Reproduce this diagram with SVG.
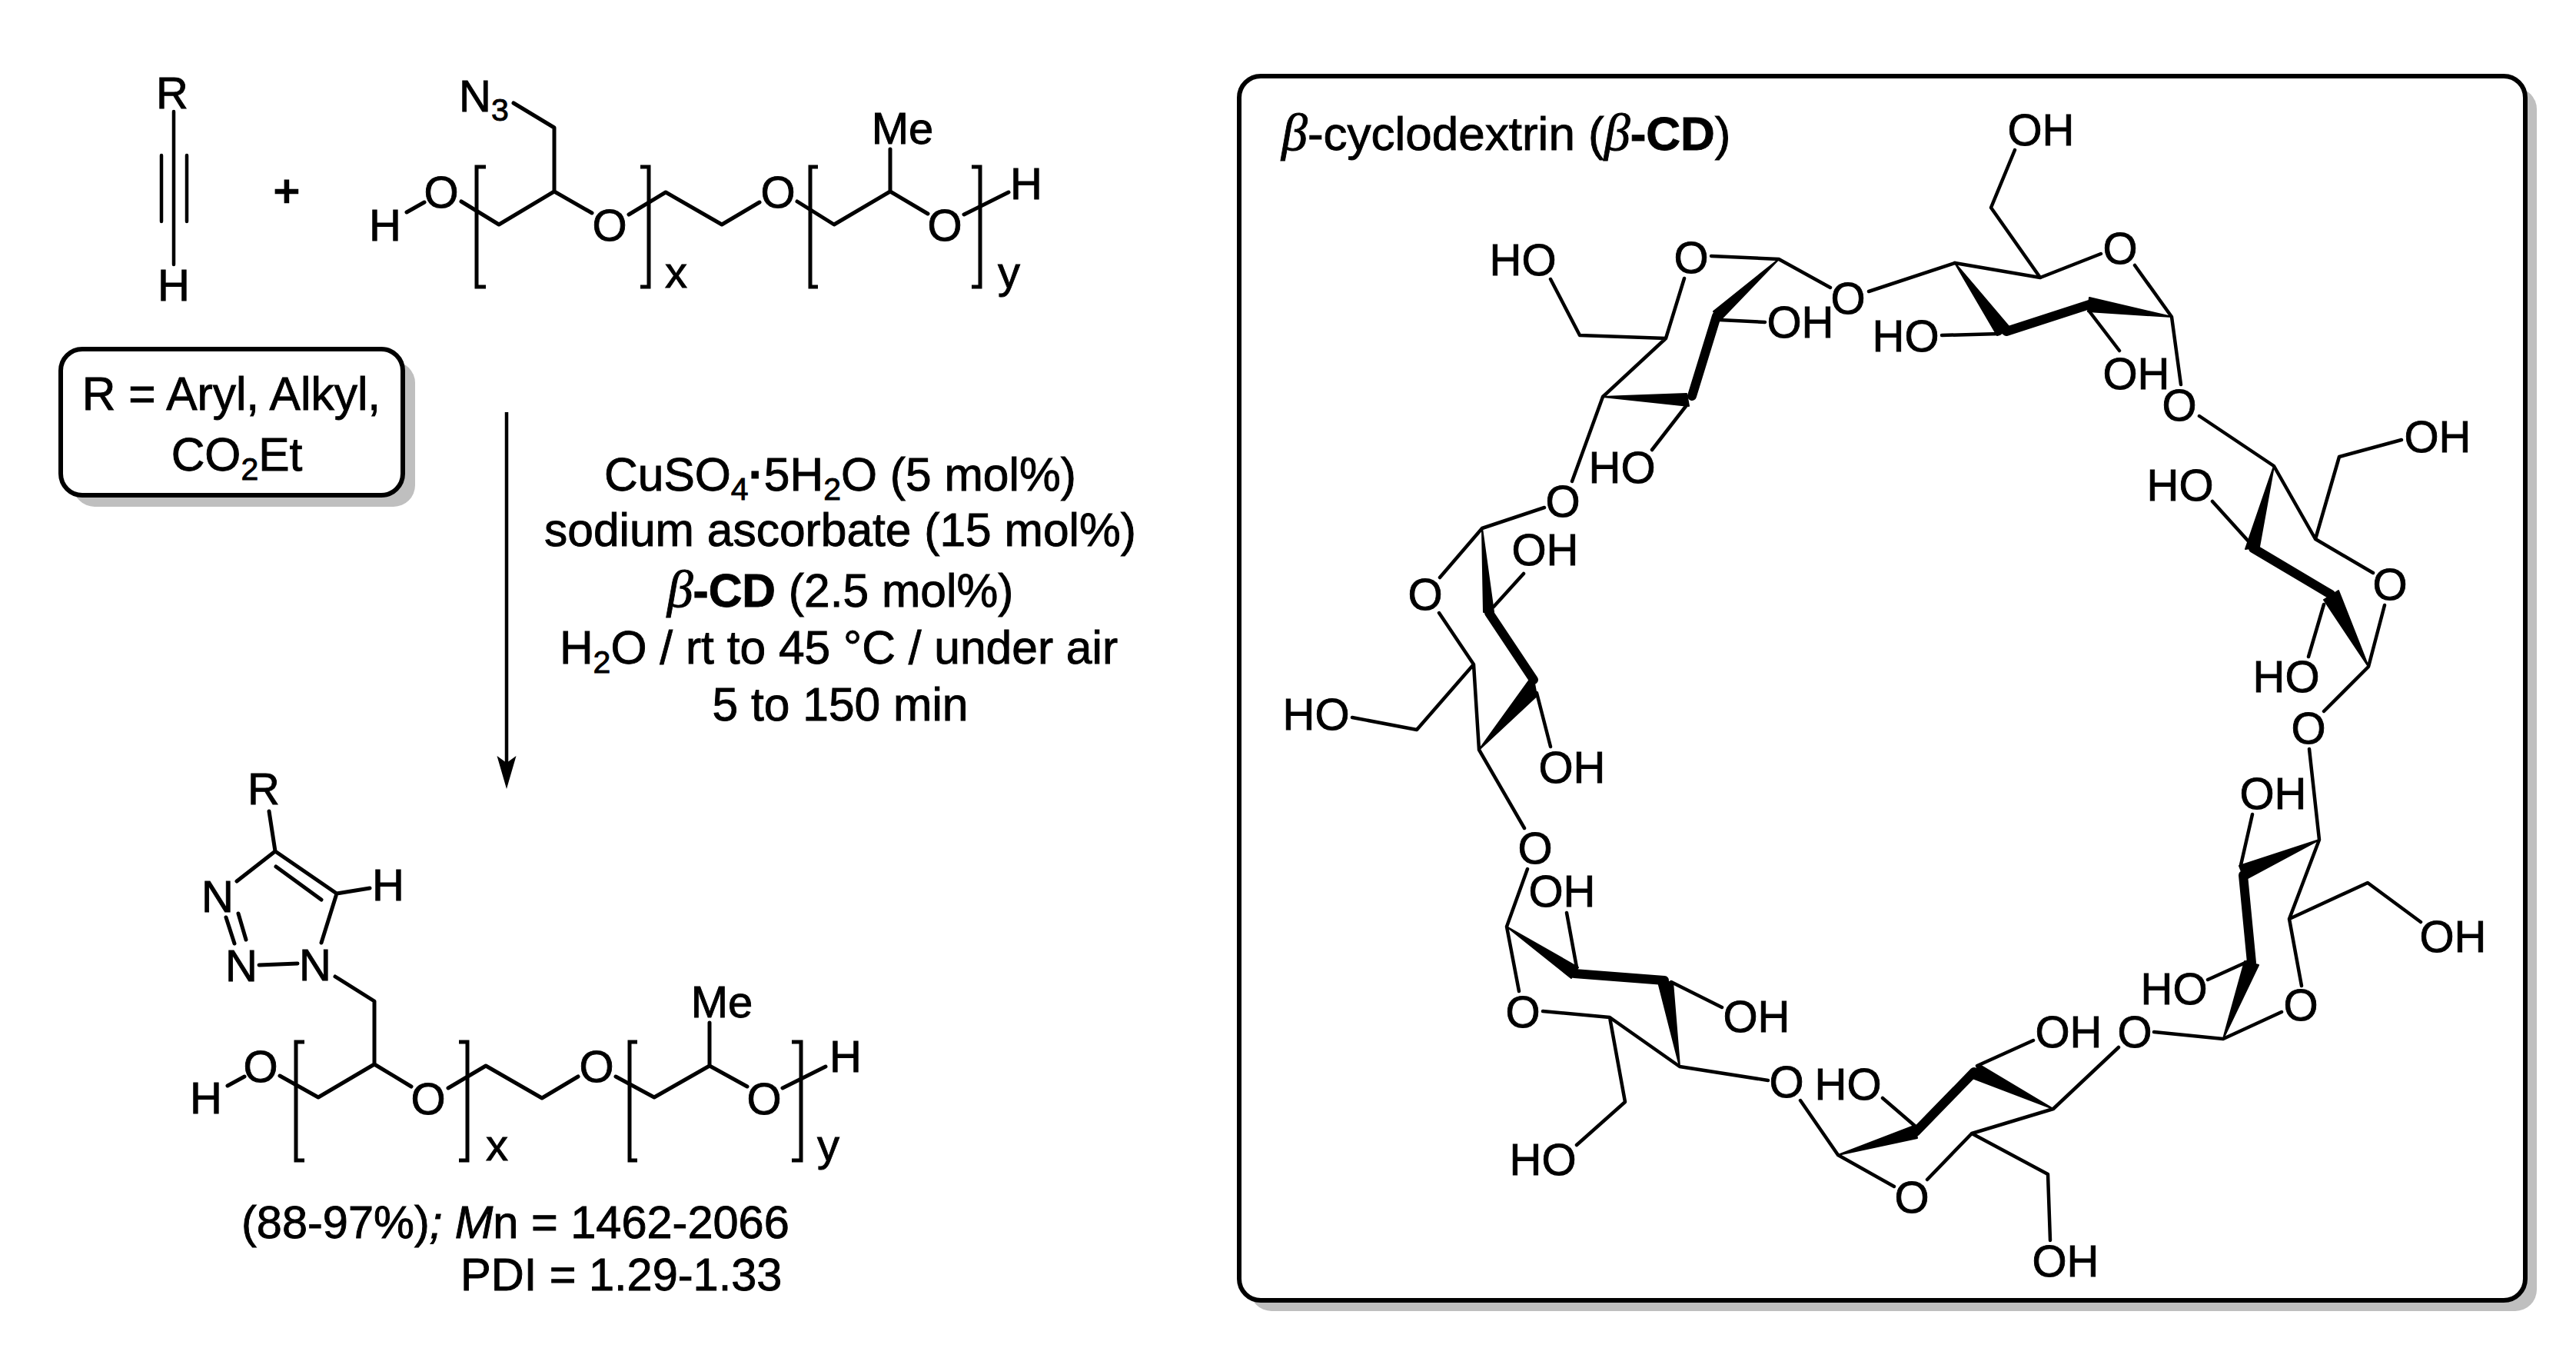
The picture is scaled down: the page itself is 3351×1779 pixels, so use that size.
<svg xmlns="http://www.w3.org/2000/svg" width="3351" height="1779" viewBox="0 0 3351 1779">
<defs>
<style>
text{font-family:"Liberation Sans",Arial,sans-serif;font-size:58px;fill:#000;stroke:#000;stroke-width:.9}
.c{text-anchor:middle}
.p{font-size:60.5px}
.q{font-size:59.5px}
.h{font-size:62px}
.l{font-size:58px;text-anchor:middle}
.s{font-size:41px}
.i{font-style:italic}
.g{font-family:"Liberation Serif",serif;font-style:italic;font-size:68px}
.bd{font-weight:bold}
.b{fill:none;stroke:#000;stroke-width:5;stroke-linecap:round;stroke-linejoin:round}
.t{fill:none;stroke:#000;stroke-width:4.5;stroke-linecap:round;stroke-linejoin:round}
.k{fill:none;stroke:#000;stroke-width:12;stroke-linecap:round;stroke-linejoin:round}
.w{fill:#000;stroke:#000;stroke-width:2;stroke-linejoin:round}
.br{fill:none;stroke:#000;stroke-width:5}
.sh{fill:#bfbfbf}
.bx{fill:#fff;stroke:#000;stroke-width:6}
</style>
</defs>
<rect width="3351" height="1779" fill="#fff"/>

<g id="alkyne">
<text class="c" x="224" y="141">R</text>
<text class="c" x="226" y="391">H</text>
<path class="t" d="M226 145V344M210 202V288M243 202V288"/>
</g>
<g id="plus"><text class="c" x="373" y="268" style="stroke-width:2.4">+</text></g>

<g id="azide-polymer">
<text x="597" y="145">N<tspan class="s" dy="12">3</tspan></text>
<text class="c" x="1174" y="187">Me</text>
<text class="c" x="574" y="270">O</text>
<text class="c" x="501" y="313">H</text>
<text class="c" x="793" y="313">O</text>
<text class="c" x="1012" y="270">O</text>
<text class="c" x="1229" y="313">O</text>
<text class="c" x="1335" y="259">H</text>
<text x="865" y="374">x</text>
<text x="1298" y="374">y</text>
<path class="b" d="M668 134L721 166V249L649 292L600 262M721 249L770 277M818 279L866 250L939 292L988 263M1037 262L1085 292L1158 249V194M1158 249L1207 278M1254 279L1312 250M529 276L552 263"/>
<path class="br" d="M632 217H620V373H632M833 217H844V373H833M1064 217H1054V373H1064M1264 217H1275V373H1264"/>
</g>

<g id="r-box">
<rect class="sh" x="95" y="470" width="445" height="189" rx="28"/>
<rect class="bx" x="79" y="454" width="445" height="190" rx="28"/>
<text class="c p" x="301" y="533">R = Aryl, Alkyl,</text>
<text class="c p" x="308" y="612">CO<tspan class="s" dy="12">2</tspan><tspan dy="-12">Et</tspan></text>
</g>

<g id="connectors">
<line x1="659" y1="536" x2="659" y2="992" stroke="#000" stroke-width="4.5"/>
<polygon points="646.5,983 659,992 671.5,983 659,1026" fill="#000"/>
</g>

<g id="conditions">
<text class="c p" x="1093" y="638">CuSO<tspan class="s" dy="12">4</tspan><tspan dy="-12" class="bd">·</tspan>5H<tspan class="s" dy="12">2</tspan><tspan dy="-12">O (5 mol%)</tspan></text>
<text class="c p" x="1093" y="710">sodium ascorbate (15 mol%)</text>
<text class="c p" x="1093" y="789"><tspan class="g">β</tspan><tspan class="bd">-CD</tspan> (2.5 mol%)</text>
<text class="c p" x="1091" y="863">H<tspan class="s" dy="12">2</tspan><tspan dy="-12">O / rt to 45 °C / under air</tspan></text>
<text class="c p" x="1093" y="937">5 to 150 min</text>
</g>

<g id="triazole-polymer">
<text class="c" x="343" y="1046">R</text>
<text class="c" x="283" y="1186">N</text>
<text class="c" x="314" y="1276">N</text>
<text class="c" x="410" y="1275">N</text>
<text class="c" x="505" y="1171">H</text>
<text class="c" x="939" y="1323">Me</text>
<text class="c" x="339" y="1407">O</text>
<text class="c" x="268" y="1448">H</text>
<text class="c" x="557" y="1449">O</text>
<text class="c" x="776" y="1407">O</text>
<text class="c" x="994" y="1449">O</text>
<text class="c" x="1100" y="1394">H</text>
<text x="632" y="1509">x</text>
<text x="1063" y="1509">y</text>
<path class="b" d="M350 1055L358 1107L308 1146M294 1193L305 1227M310 1188L320 1222M337 1255L387 1253M418 1226L438 1162L358 1107M359 1127L418 1170M438 1162L481 1155M436 1270L487 1302V1384L535 1413M487 1384L414 1427L364 1399M296 1412L318 1400M583 1415L632 1386L705 1428L752 1400M801 1400L851 1427L923 1386V1330M923 1386L972 1413M1018 1415L1074 1387"/>
<path class="br" d="M396 1355H385V1509H396M597 1355H608V1509H597M829 1355H819V1509H829M1030 1355H1042V1509H1030"/>
<text class="q" x="314" y="1610">(88-97%)<tspan class="i">; M</tspan>n = 1462-2066</text>
<text class="q" x="599" y="1678">PDI = 1.29-1.33</text>
</g>

<g id="beta-cd-box">
<rect class="sh" x="1626" y="114" width="1674" height="1591" rx="28"/>
<rect class="bx" x="1612" y="99" width="1673" height="1592" rx="28"/>
<text class="h" x="1667" y="195"><tspan class="g">β</tspan>-cyclodextrin (<tspan class="g">β</tspan><tspan class="bd">-CD</tspan>)</text>
</g>

<g id="beta-cd">
<g id="unit-a">
<text class="l" x="1981" y="358">HO</text>
<text class="l" x="2200" y="355">O</text>
<text class="l" x="2404" y="408">O</text>
<text class="l" x="2342" y="439">OH</text>
<text class="l" x="2110" y="628">HO</text>
<path class="t" d="M2017 363L2055 436L2167 440L2191 362M2226 333L2314 337L2381 374M2431 379L2543 342M2167 440L2085 516L2045 626M2237 416L2296 419M2194 527L2149 585"/>
<polygon class="w" points="2314,337 2229,405 2238,416"/>
<line class="k" x1="2233" y1="411" x2="2201" y2="515"/>
<polygon class="w" points="2085,516 2194,512 2197,528"/>
</g>
<g id="unit-b">
<text class="l" x="2033" y="672">O</text>
<text class="l" x="2010" y="735">OH</text>
<text class="l" x="1854" y="793">O</text>
<text class="l" x="1712" y="949">HO</text>
<text class="l" x="2045" y="1018">OH</text>
<path class="t" d="M2009 660L1928 687L1873 751M1872 797L1917 864L1843 949L1759 933M1917 864L1924 975L1983 1077M1943 789L1982 746M1999 901L2017 971"/>
<polygon class="w" points="1928,687 1930,796 1943,796"/>
<line class="k" x1="1937" y1="797" x2="1995" y2="884"/>
<polygon class="w" points="1924,975 1994,878 1999,905"/>
</g>
<g id="unit-c">
<text class="l" x="1997" y="1123">O</text>
<text class="l" x="2032" y="1179">OH</text>
<text class="l" x="1981" y="1336">O</text>
<text class="l" x="2007" y="1528">HO</text>
<text class="l" x="2285" y="1342">OH</text>
<text class="l" x="2324" y="1427">O</text>
<path class="t" d="M1987 1130L1960 1205L1976 1289M2007 1315L2094 1323L2114 1433L2051 1489M2094 1323L2185 1387L2300 1405M2051 1258L2038 1187M2174 1277L2240 1310"/>
<polygon class="w" points="1960,1205 2044,1272 2053,1258"/>
<line class="k" x1="2048" y1="1266" x2="2165" y2="1275"/>
<polygon class="w" points="2185,1387 2157,1277 2176,1277"/>
</g>
<g id="unit-d">
<text class="l" x="2404" y="1430">HO</text>
<text class="l" x="2487" y="1577">O</text>
<text class="l" x="2687" y="1660">OH</text>
<text class="l" x="2691" y="1362">OH</text>
<text class="l" x="2777" y="1362">O</text>
<path class="t" d="M2342 1431L2391 1502L2464 1543M2507 1534L2565 1474L2664 1527L2667 1613M2565 1474L2671 1442L2756 1362M2492 1465L2449 1428M2572 1386L2645 1353"/>
<polygon class="w" points="2391,1502 2494,1480 2490,1464"/>
<line class="k" x1="2492" y1="1472" x2="2568" y2="1394"/>
<polygon class="w" points="2671,1442 2574,1384 2566,1402"/>
</g>
<g id="unit-e">
<text class="l" x="2828" y="1306">HO</text>
<text class="l" x="2993" y="1327">O</text>
<text class="l" x="3191" y="1238">OH</text>
<text class="l" x="2957" y="1052">OH</text>
<text class="l" x="3003" y="967">O</text>
<path class="t" d="M2802 1342L2892 1351L2968 1316M2994 1282L2978 1195L3080 1148L3149 1199M2978 1195L3017 1092L3004 974M2925 1250L2872 1274M2915 1125L2930 1059"/>
<polygon class="w" points="2892,1351 2920,1250 2938,1255"/>
<line class="k" x1="2929" y1="1252" x2="2918" y2="1138"/>
<polygon class="w" points="3017,1092 2913,1126 2920,1144"/>
</g>
<g id="unit-f">
<text class="l" x="2974" y="900">HO</text>
<text class="l" x="3109" y="780">O</text>
<text class="l" x="3171" y="588">OH</text>
<text class="l" x="2836" y="651">HO</text>
<path class="t" d="M3023 925L3081 867L3102 787M3087 745L3012 701L3043 594L3124 572M3012 701L2958 606L2861 541M3023 786L3003 854M2925 704L2878 652"/>
<polygon class="w" points="3081,867 3023,780 3042,768"/>
<line class="k" x1="3032" y1="773" x2="2931" y2="713"/>
<polygon class="w" points="2958,606 2921,714 2939,711"/>
</g>
<g id="unit-g">
<text class="l" x="2835" y="547">O</text>
<text class="l" x="2779" y="506">OH</text>
<text class="l" x="2758" y="343">O</text>
<text class="l" x="2655" y="189">OH</text>
<text class="l" x="2479" y="457">HO</text>
<path class="t" d="M2837 500L2825 412L2777 345M2733 330L2654 361L2590 270L2621 195M2654 361L2543 342M2718 405L2757 456M2601 434L2526 436"/>
<polygon class="w" points="2825,412 2718,387 2716,405"/>
<line class="k" x1="2718" y1="396" x2="2610" y2="431"/>
<polygon class="w" points="2543,342 2598,436 2616,428"/>
</g>
</g>
</svg>
